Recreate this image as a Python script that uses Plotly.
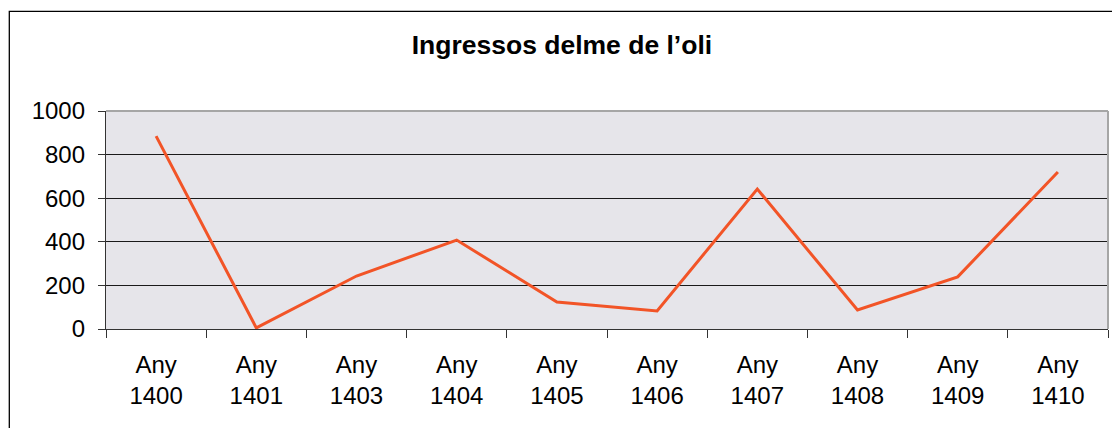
import plotly.graph_objects as go

# data
years = ['1400', '1401', '1403', '1404', '1405', '1406', '1407', '1408', '1409', '1410']
ingressos = [885, 5, 243, 408, 124, 83, 642, 87, 239, 720]
tick_labels = ['Any<br>' + y for y in years]

FONT = 'Liberation Sans, Arial, sans-serif'
LINE_COLOR = '#F25427'

fig = go.Figure()
fig.add_trace(go.Scatter(x=years, y=ingressos,
                         mode='lines',
                         line=dict(color=LINE_COLOR, width=3),
                         hoverinfo='x+y',
                         showlegend=False))

fig.update_layout(
    width=1112, height=428,
    margin=dict(l=106, r=4, t=111, b=99),
    paper_bgcolor='white',
    plot_bgcolor='#E6E5EA',
    font=dict(family=FONT, size=24, color='black'),
    title=dict(text='Ingressos delme de l’oli',
               font=dict(family=FONT, size=26.5, color='black', weight='bold'),
               x=0.455, xref='paper', xanchor='center',
               y=0.895, yref='container', yanchor='middle'),
)

fig.update_xaxes(type='category',
                 tickmode='array', tickvals=years, ticktext=tick_labels,
                 tickson='boundaries',
                 ticks='outside', ticklen=8, tickwidth=1.3, tickcolor='#333333',
                 ticklabelstandoff=14,
                 showline=True, linecolor='#333333', linewidth=1.3,
                 showgrid=False, zeroline=False,
                 range=[-0.5, 9.5],
                 tickfont=dict(family=FONT, size=24))

fig.update_yaxes(range=[0, 1000], tickmode='array',
                 tickvals=[0, 200, 400, 600, 800, 1000],
                 ticks='outside', ticklen=7, tickwidth=1.3, tickcolor='#333333',
                 ticklabelstandoff=8,
                 showline=True, linecolor='#333333', linewidth=1.3,
                 showgrid=True, gridcolor='#1a1a1a', gridwidth=1,
                 zeroline=False,
                 tickfont=dict(family=FONT, size=24))

# grey frame on top and right of plot area
fig.add_shape(type='line', xref='paper', yref='paper', x0=0, x1=1, y0=1, y1=1,
              line=dict(color='#A6A6A6', width=2))
fig.add_shape(type='line', xref='paper', yref='paper', x0=1, x1=1, y0=0, y1=1,
              line=dict(color='#A6A6A6', width=2))

# outer chart border (runs off the right and bottom edges of the picture)
fig.add_shape(type='rect', xref='paper', yref='paper',
              x0=-0.0965, x1=1.05, y0=-0.6, y1=1.457,
              line=dict(color='black', width=1.3), layer='below')

fig.write_html('out.html', config={'displayModeBar': False},
               post_script="document.body.style.margin='0';")
